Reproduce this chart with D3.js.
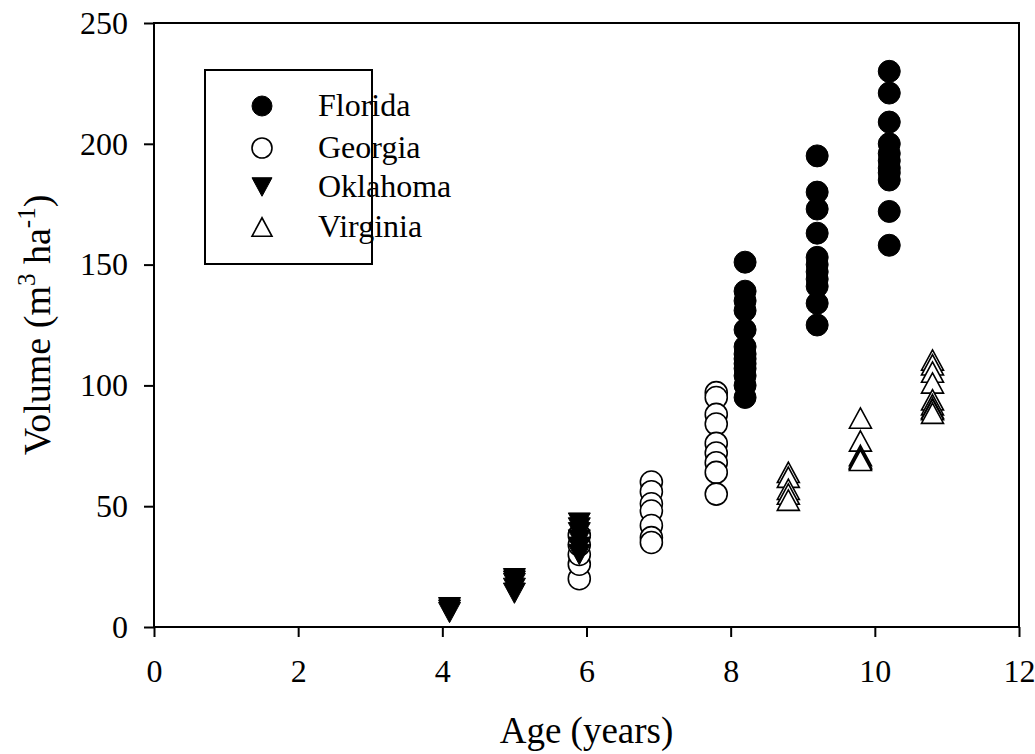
<!DOCTYPE html>
<html><head><meta charset="utf-8">
<script src="https://cdn.jsdelivr.net/npm/d3@7"></script>
<style>body{margin:0;background:#fff}text{font-family:"Liberation Serif","Times New Roman",serif;fill:#000}</style>
</head><body><svg id="c" width="1035" height="754"></svg>
<script>
const seriesNames = ["Florida", "Georgia", "Oklahoma", "Virginia"];
const floridaAge = [8.2,8.2,8.2,8.2,8.2,8.2,8.2,8.2,8.2,8.2,8.2,8.2,8.2, 9.2,9.2,9.2,9.2,9.2,9.2,9.2,9.2,9.2,9.2,9.2, 10.2,10.2,10.2,10.2,10.2,10.2,10.2,10.2,10.2,10.2,10.2];
const floridaVol = [151,139,135,131,123,116,113,111,109,107,104,100,95, 195,180,173,163,153,150,147,144,141,134,125, 230,221,209,200,196,193,190,188,185,172,158];
const georgiaAge = [5.9,5.9,5.9,5.9,5.9, 6.9,6.9,6.9,6.9,6.9,6.9,6.9, 7.8,7.8,7.8,7.8,7.8,7.8,7.8,7.8,7.8];
const georgiaVol = [20,26,30,34,38, 60,56,51,48,42,37,35, 97,95,88,84,76,72,68,64,55];
const oklahomaAge = [4.1,4.1,4.1, 5.0,5.0,5.0,5.0,5.0, 5.9,5.9,5.9,5.9,5.9,5.9];
const oklahomaVol = [6,7,8, 14,16,18,19,20, 30,33,36,39,41,43];
const virginiaAge = [8.8,8.8,8.8,8.8,8.8, 9.8,9.8,9.8,9.8,9.8,9.8, 10.8,10.8,10.8,10.8,10.8,10.8,10.8,10.8,10.8];
const virginiaVol = [64,62,57,55,52.5, 86.5,77,71,70,69.5,69, 110.5,108.5,105.5,101,94,92,90.5,90,88.5];
const xTicks = [0,2,4,6,8,10,12];
const yTicks = [0,50,100,150,200,250];

const svg = d3.select("#c");
const L=154, R=1019, T=23, B=627;
const x = d3.scaleLinear().domain([0,12]).range([L,R]);
const y = d3.scaleLinear().domain([0,250]).range([B,T]);

const tri = (up, w, h) => up
  ? `M0,${-h/2}L${w/2},${h/2}L${-w/2},${h/2}Z`
  : `M0,${h/2}L${w/2},${-h/2}L${-w/2},${-h/2}Z`;

function drawSym(g, kind, size) {
  if (kind===0) g.append("circle").attr("r",size).attr("fill","#000").attr("stroke","#000").attr("stroke-width",1);
  else if (kind===1) g.append("circle").attr("r",size).attr("fill","#fff").attr("stroke","#000").attr("stroke-width",1.6);
  else if (kind===2) g.append("path").attr("d",tri(false,size*2,size*1.85)).attr("fill","#000").attr("stroke","#000").attr("stroke-width",1);
  else g.append("path").attr("d",tri(true,size*2,size*1.85)).attr("fill","#fff").attr("stroke","#000").attr("stroke-width",1.6);
}

const series = [[floridaAge,floridaVol],[georgiaAge,georgiaVol],[oklahomaAge,oklahomaVol],[virginiaAge,virginiaVol]];
series.forEach((s,k)=>{
  const data = s[0].map((a,i)=>({a, v:s[1][i]}));
  svg.append("g").selectAll("g").data(data).join("g")
    .attr("transform",d=>`translate(${x(d.a)},${y(d.v)})`)
    .each(function(){ drawSym(d3.select(this), k, 11); });
});

// frame
svg.append("rect").attr("x",L).attr("y",T).attr("width",R-L).attr("height",B-T)
  .attr("fill","none").attr("stroke","#000").attr("stroke-width",2);

const xa = svg.append("g").attr("transform",`translate(0,${B})`)
  .call(d3.axisBottom(x).tickValues(xTicks).tickSize(10).tickPadding(22).tickFormat(d3.format("d")));
const ya = svg.append("g").attr("transform",`translate(${L},0)`)
  .call(d3.axisLeft(y).tickValues(yTicks).tickSize(10).tickPadding(16).tickFormat(d3.format("d")));
[xa,ya].forEach(a=>{
  a.select(".domain").remove();
  a.selectAll(".tick line").attr("stroke","#000").attr("stroke-width",2);
  a.selectAll(".tick text").attr("font-size",32).style("font-family","Liberation Serif, serif");
});

svg.append("text").attr("x",(L+R)/2).attr("y",743).attr("text-anchor","middle").attr("font-size",37).text("Age (years)");
const yt = svg.append("text").attr("transform",`translate(50,${(T+B)/2}) rotate(-90)`).attr("text-anchor","middle").attr("font-size",38);
yt.append("tspan").text("Volume (m");
yt.append("tspan").attr("dy",-15).attr("font-size",25).text("3");
yt.append("tspan").attr("dy",15).text(" ha");
yt.append("tspan").attr("dy",-15).attr("font-size",25).text("-1");
yt.append("tspan").attr("dy",15).text(")");

// legend
svg.append("rect").attr("x",205).attr("y",70).attr("width",167).attr("height",194)
  .attr("fill","#fff").attr("stroke","#000").attr("stroke-width",2);
const rows = [106,148,187,227];
seriesNames.forEach((n,k)=>{
  const g = svg.append("g").attr("transform",`translate(262,${rows[k]})`);
  drawSym(g,k,10);
  svg.append("text").attr("x",318).attr("y",rows[k]+10).attr("font-size",32).text(n);
});
</script></body></html>
